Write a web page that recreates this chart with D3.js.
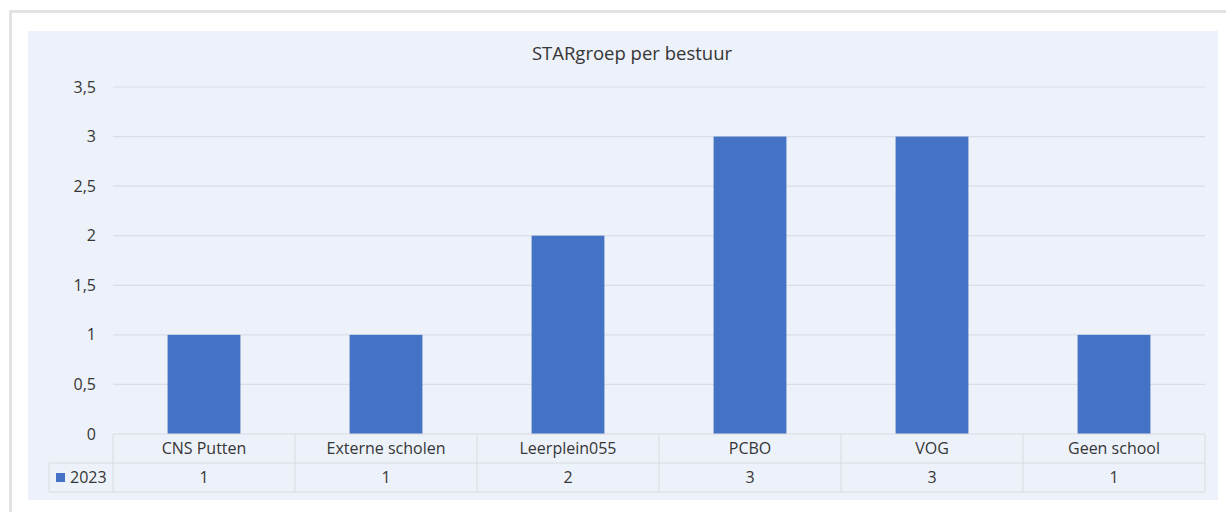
<!DOCTYPE html>
<html>
<head>
<meta charset="utf-8">
<script src="https://cdn.jsdelivr.net/npm/d3@7"></script>
<style>
  body { margin: 0; background: #fff; }
  text { font-family: "Open Sans", "Noto Sans", sans-serif; fill: #363636; }
</style>
</head>
<body>
<script>
var categories = ["CNS Putten", "Externe scholen", "Leerplein055", "PCBO", "VOG", "Geen school"];
var values2023 = [1, 1, 2, 3, 3, 1];
var seriesName = "2023";
var yTicks = [0, 0.5, 1, 1.5, 2, 2.5, 3, 3.5];

var W = 1226, H = 512;
var svg = d3.select("body").append("svg").attr("width", W).attr("height", H);

// card frame with soft shadow
svg.append("rect").attr("x", 9).attr("y", 10).attr("width", W - 9).attr("height", H - 10).attr("fill", "#e2e2e2");
svg.append("rect").attr("x", 12).attr("y", 13).attr("width", W - 12).attr("height", H - 13).attr("fill", "#fff");

// chart area
svg.append("rect").attr("x", 28).attr("y", 31).attr("width", 1190).attr("height", 469).attr("fill", "#edf1f9");

svg.append("text").attr("x", 632).attr("y", 60).attr("text-anchor", "middle")
  .style("font-size", "18.5px").text("STARgroep per bestuur");

var margin = { left: 113, right: 1205, top: 87, bottom: 434 };

var x = d3.scaleBand().domain(categories).range([margin.left, margin.right]).paddingInner(0).paddingOuter(0);
var y = d3.scaleLinear().domain([0, 3.5]).range([margin.bottom, margin.top]);
var fmt = function (d) { return String(d).replace(".", ","); };

var g = svg.append("g");

// gridlines
g.selectAll(".grid").data(yTicks.slice(1)).enter().append("line")
  .attr("x1", margin.left).attr("x2", margin.right)
  .attr("y1", function (d) { return y(d); }).attr("y2", function (d) { return y(d); })
  .attr("stroke", "#d9dde6").attr("stroke-width", 1.2);

// y axis labels
var yAxis = d3.axisLeft(y).tickValues(yTicks).tickFormat(fmt).tickSize(0).tickPadding(17);
var ya = svg.append("g").attr("transform", "translate(" + margin.left + ",0)").call(yAxis);
ya.select(".domain").remove();
ya.selectAll("text").style("font-size", "16px").style("font-family", "'Open Sans', sans-serif").attr("fill", "#363636");

// bars
var barW = x.bandwidth() * 0.4;
g.selectAll(".bar").data(values2023).enter().append("rect")
  .attr("x", function (d, i) { return x(categories[i]) + (x.bandwidth() - barW) / 2; })
  .attr("y", function (d) { return y(d); })
  .attr("width", barW)
  .attr("height", function (d) { return y(0) - y(d); })
  .attr("fill", "#4472c4");

// data table
var rowH = 29, legendX = 49;
var t = svg.append("g");
var stroke = "#d9dbe0";
var r1 = margin.bottom, r2 = margin.bottom + rowH, r3 = margin.bottom + 2 * rowH;
t.append("line").attr("x1", margin.left).attr("x2", margin.right).attr("y1", r1).attr("y2", r1).attr("stroke", stroke);
t.append("line").attr("x1", legendX).attr("x2", margin.right).attr("y1", r2).attr("y2", r2).attr("stroke", stroke);
t.append("line").attr("x1", legendX).attr("x2", margin.right).attr("y1", r3).attr("y2", r3).attr("stroke", stroke);
t.append("line").attr("x1", legendX).attr("x2", legendX).attr("y1", r2).attr("y2", r3).attr("stroke", stroke);
var edges = categories.map(function (c) { return x(c); }).concat([margin.right]);
t.selectAll(".vl").data(edges).enter().append("line")
  .attr("x1", function (d) { return d; }).attr("x2", function (d) { return d; })
  .attr("y1", r1).attr("y2", r3).attr("stroke", stroke);

t.selectAll(".cat").data(categories).enter().append("text")
  .attr("x", function (d) { return x(d) + x.bandwidth() / 2; })
  .attr("y", r1 + 20).attr("text-anchor", "middle").style("font-size", "16px")
  .text(function (d) { return d; });

t.selectAll(".val").data(values2023).enter().append("text")
  .attr("x", function (d, i) { return x(categories[i]) + x.bandwidth() / 2; })
  .attr("y", r2 + 20).attr("text-anchor", "middle").style("font-size", "16px")
  .text(function (d) { return fmt(d); });

t.append("rect").attr("x", 56).attr("y", r2 + 10).attr("width", 9).attr("height", 9).attr("fill", "#4472c4");
t.append("text").attr("x", 70).attr("y", r2 + 20).style("font-size", "16px").text(seriesName);
</script>
</body>
</html>
